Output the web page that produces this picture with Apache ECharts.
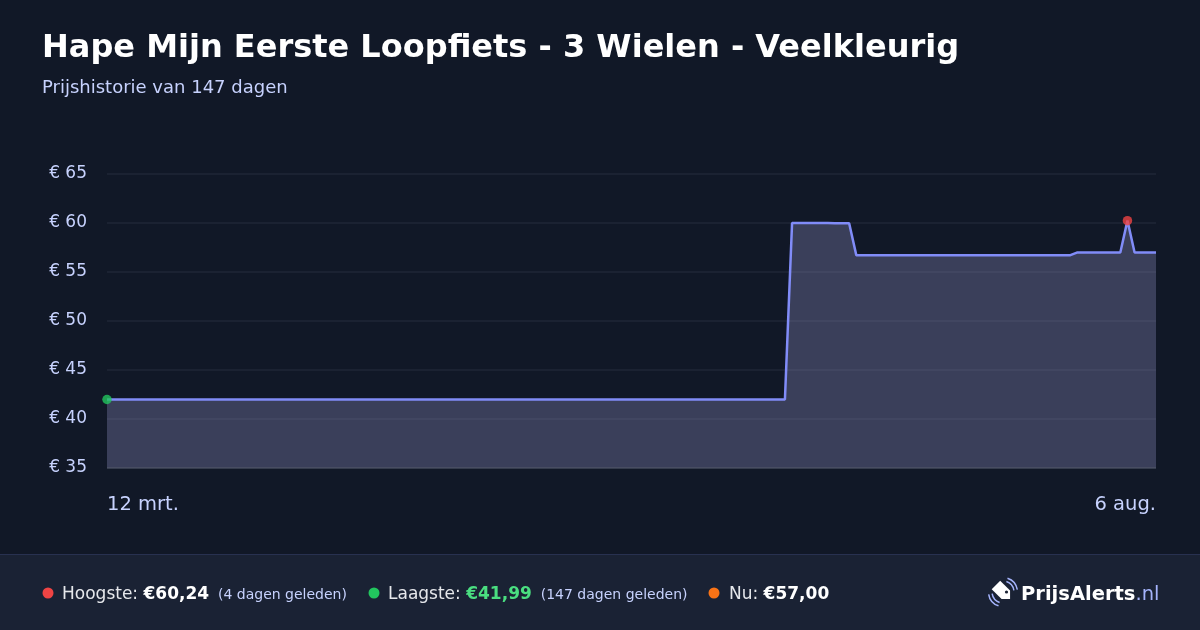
<!DOCTYPE html>
<html><head><meta charset="utf-8">
<script src="https://cdn.jsdelivr.net/npm/echarts@6/dist/echarts.min.js"></script>
<style>html,body{margin:0;padding:0;background:#111827;}#c{width:1200px;height:630px;}</style>
</head><body><div id="c"></div>
<script>
// day index since 12 mrt. and price (change points of the daily series)
const days   = [0,     95,    96,    101,   102,   104,   105,   135,   136, 142, 143,   144, 147];
const prices = [41.99, 41.99, 59.99, 59.99, 59.97, 59.97, 56.72, 56.72, 57,  57,  60.24, 57,  57];
const xTickLabels = {0: '12 mrt.', 147: '6 aug.'};
const yTicks = [35, 40, 45, 50, 55, 60, 65];
const lowPoint = [0, 41.99];
const highPoint = [143, 60.24];

const FONT = '"DejaVu Sans", sans-serif';
const chart = echarts.init(document.getElementById('c'), null, {renderer: 'canvas'});
const lineData = days.map((d, i) => [d, prices[i]]);

chart.setOption({
  backgroundColor: '#111827',
  animation: false,
  title: {
    text: 'Hape Mijn Eerste Loopfiets - 3 Wielen - Veelkleurig',
    subtext: 'Prijshistorie van 147 dagen',
    left: 37, top: 28,
    itemGap: 14,
    textStyle: {color: '#ffffff', fontFamily: FONT, fontWeight: 'bold', fontSize: 32},
    subtextStyle: {color: '#c7d2fe', fontFamily: FONT, fontSize: 18}
  },
  grid: {left: 107, right: 44, top: 174, bottom: 162},
  xAxis: {
    type: 'value', min: 0, max: 147, interval: 147,
    axisLine: {show: false}, axisTick: {show: false}, splitLine: {show: false},
    axisLabel: {
      color: '#c7d2fe', fontFamily: FONT, fontSize: 19.5, margin: 27,
      alignMinLabel: 'left', alignMaxLabel: 'right',
      formatter: v => xTickLabels[v] || ''
    }
  },
  yAxis: {
    type: 'value', min: yTicks[0], max: yTicks[yTicks.length - 1], interval: 5,
    axisLine: {show: false}, axisTick: {show: false},
    splitLine: {lineStyle: {color: '#1f2637', width: 1.5}},
    axisLabel: {color: '#c7d2fe', fontFamily: FONT, fontSize: 17, margin: 20,
      padding: [4, 0, 0, 0],
      formatter: v => '€ ' + v}
  },
  series: [
    {
      type: 'line', data: lineData, showSymbol: false, symbol: 'none',
      lineStyle: {color: '#818cf8', width: 2.5},
      areaStyle: {color: 'rgba(157,154,210,0.3)', opacity: 1},
      z: 2
    },
    {
      type: 'line', data: [[0, 35], [147, 35]], showSymbol: false, symbol: 'none',
      lineStyle: {color: '#4b5163', width: 1.5}, z: 3, silent: true
    },
    {
      type: 'scatter', data: [lowPoint], symbolSize: 9.5,
      itemStyle: {color: '#22c55e'}, z: 5
    },
    {
      type: 'scatter', data: [highPoint], symbolSize: 9.5,
      itemStyle: {color: '#ef4444'}, z: 5
    }
  ],
  graphic: [
    {type: 'rect', shape: {x: 0, y: 554, width: 1200, height: 76}, style: {fill: '#1a2234'}, z: 0},
    {type: 'rect', shape: {x: 0, y: 554, width: 1200, height: 1}, style: {fill: '#283150'}, z: 1},
    {type: 'circle', shape: {cx: 48, cy: 593, r: 5.5}, style: {fill: '#ef4444'}},
    {type: 'text', x: 62, y: 595, style: {
      text: '{a|Hoogste: }{b|€60,24}{c|  (4 dagen geleden)}',
      verticalAlign: 'middle',
      rich: {
        a: {fill: '#e5e7eb', fontFamily: FONT, fontSize: 17},
        b: {fill: '#ffffff', fontFamily: FONT, fontSize: 17, fontWeight: 'bold'},
        c: {fill: '#c7d2fe', fontFamily: FONT, fontSize: 14}
      }}},
    {type: 'circle', shape: {cx: 374, cy: 593, r: 5.5}, style: {fill: '#22c55e'}},
    {type: 'text', x: 388, y: 595, style: {
      text: '{a|Laagste: }{b|€41,99}{c|  (147 dagen geleden)}',
      verticalAlign: 'middle',
      rich: {
        a: {fill: '#e5e7eb', fontFamily: FONT, fontSize: 17},
        b: {fill: '#4ade80', fontFamily: FONT, fontSize: 17, fontWeight: 'bold'},
        c: {fill: '#c7d2fe', fontFamily: FONT, fontSize: 14}
      }}},
    {type: 'circle', shape: {cx: 714, cy: 593, r: 5.5}, style: {fill: '#f97316'}},
    {type: 'text', x: 729, y: 595, style: {
      text: '{a|Nu: }{b|€57,00}',
      verticalAlign: 'middle',
      rich: {
        a: {fill: '#e5e7eb', fontFamily: FONT, fontSize: 17},
        b: {fill: '#ffffff', fontFamily: FONT, fontSize: 17, fontWeight: 'bold'}
      }}},
    // logo icon
    {type: 'group', x: 1003, y: 592, children: [
      {type: 'polygon', rotation: Math.PI / 4,
        shape: {points: [[-6, -10], [6, -10], [6, 4], [0, 10], [-6, 4]]},
        style: {fill: '#ffffff'}},
      {type: 'circle', shape: {cx: 3.5, cy: 0, r: 1.6}, style: {fill: '#1a2234'}},
      {type: 'arc', shape: {cx: 0, cy: 0, r: 11, startAngle: Math.PI * 0.6, endAngle: Math.PI * 0.95},
        style: {stroke: '#a5b4fc', lineWidth: 1.5, fill: null}},
      {type: 'arc', shape: {cx: 0, cy: 0, r: 14.5, startAngle: Math.PI * 0.6, endAngle: Math.PI * 0.95},
        style: {stroke: '#a5b4fc', lineWidth: 1.5, fill: null}},
      {type: 'arc', shape: {cx: 0, cy: 0, r: 11, startAngle: -Math.PI * 0.4, endAngle: -Math.PI * 0.05},
        style: {stroke: '#a5b4fc', lineWidth: 1.5, fill: null}},
      {type: 'arc', shape: {cx: 0, cy: 0, r: 14.5, startAngle: -Math.PI * 0.4, endAngle: -Math.PI * 0.05},
        style: {stroke: '#a5b4fc', lineWidth: 1.5, fill: null}}
    ]},
    {type: 'text', x: 1021, y: 595, style: {
      text: '{a|PrijsAlerts}{b|.nl}', verticalAlign: 'middle',
      rich: {
        a: {fill: '#ffffff', fontFamily: FONT, fontSize: 19.5, fontWeight: 'bold'},
        b: {fill: '#a5b4fc', fontFamily: FONT, fontSize: 19.5}
      }}}
  ]
});
</script></body></html>
